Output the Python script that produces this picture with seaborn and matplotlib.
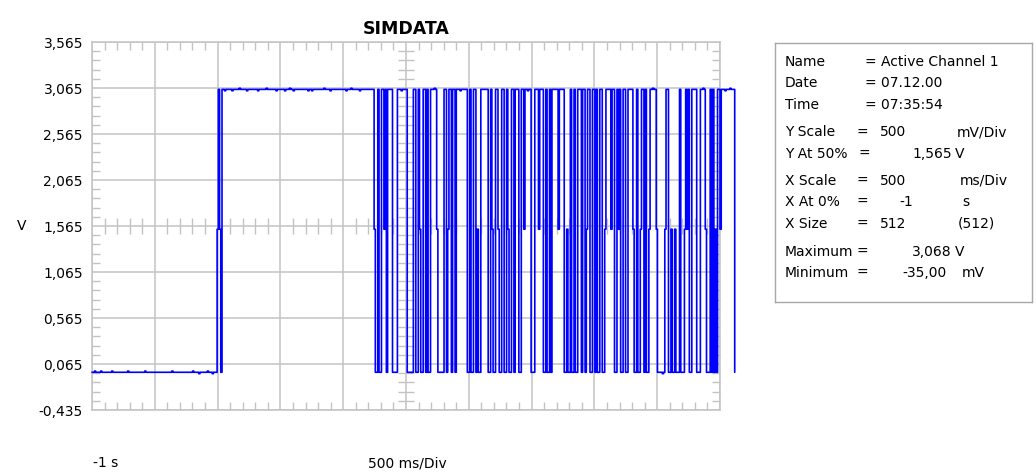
import numpy as np
import matplotlib
matplotlib.use("Agg")
import matplotlib.pyplot as plt
from matplotlib.ticker import FixedLocator
import seaborn as sns
import pandas as pd

# ---------------- data ----------------
TITLE = "SIMDATA"
X_START = -1.0            # s, left edge
X_END = 4.0               # s, right edge
DT = 5.0 / 512            # s per sample
Y_MIN, Y_MAX = -0.435, 3.565
X_TICKS = [-1.0, -0.5, 0.0, 0.5, 1.0, 1.5, 2.0, 2.5, 3.0, 3.5, 4.0]
Y_TICKS = [-0.435, 0.065, 0.565, 1.065, 1.565, 2.065, 2.565, 3.065, 3.565]
Y_TICK_LABELS = ["-0,435", "0,065", "0,565", "1,065", "1,565",
                 "2,065", "2,565", "3,065", "3,565"]
Y_CENTER = 1.565
X_CENTER = 1.5

# signal levels (V) used by the per-sample level strings below
LEVELS = {"L": -0.025, "l": -0.040, "k": -0.012,
          "M": 1.530,
          "H": 3.050, "h": 3.035, "j": 3.062}

SEG_LOW = ("LLkLLLLkLL" "LLLLLLkLLL" "LLLLLLLLLk" "LLLLLLLLLL" "LLLkLLLLLL"
           "LLLLLLLLLL" "LLLLLkLLLL" "LLLLLLLLLL" "LLkLLLLlLL" "LLLLkLLLlL" "LL")
SEG_STEP = "MHML"
SEG_HIGH = ("HHhHHHHHhH" "HHHHjHHHHH" "hHHHHHHHHh" "HHHHHHjHHH" "HHHHhHHHHH"
            "HhHHHjHHhH" "HHHHHHHHHH" "hHHhHHHHHH" "HHHjHHHHhH" "HHHHHHHHHH"
            "HhHHHjHHHH" "HHhHHHH")
SEG_A = ("HHHHHHH" "MLLHLL" "HHMHLHH" "HHLLLL" "HHHhHHHH" "LLLLL"
         "HHLLHMLLHHLHLLH" "HHjH" "MLLL")
SEG_B = ("LLHHLMHH" "LHHL" "HHHhHHHHH" "LLHLLHHL" "MLLHH" "HHHH"
         "LLHMLLHHMLLHHLLHMLLHHLHH")
SEG_C = ("HLLHHM" "HHhHH" "LLL" "HHHMHHH" "LLHLLHL" "HHHHHMHHHH"
         "LLMLLHLL" "HLLHHHL" "HHLMHHLLH")
SEG_D = ("HLHLL" "HHL" "LMHH" "HHMHH" "LLHMHL" "LHHLLH" "HHHML"
         "LHLLMHHLHLLM" "HHjHH" "ML" "LLLlL" "MHHL")
SEG_E = ("LMLLMLLL" "H" "LLLM" "HM" "H" "LLHH" "HH" "LLL" "H" "HjH" "M"
         "LLLHL" "HLMLHHM" "HHHhHHHjHHH" "L")

BOTTOM_LEFT = "-1 s"
BOTTOM_CENTER = "500 ms/Div"
Y_UNIT = "V"

INFO_LABELS = ["Name", "Date", "Time", "Y Scale", "Y At 50%", "X Scale",
               "X At 0%", "X Size", "Maximum", "Minimum"]
INFO_EQ = ["= Active Channel 1", "= 07.12.00", "= 07:35:54", "=", "=", "=",
           "=", "=", "=", "="]
INFO_VALUES = ["", "", "", "500", "1,565", "500", "-1", "512", "3,068", "-35,00"]
INFO_UNITS = ["", "", "", "mV/Div", "V", "ms/Div", "s", "(512)", "V", "mV"]

# ---------------- build series ----------------
samples = SEG_LOW + SEG_STEP + SEG_HIGH + SEG_A + SEG_B + SEG_C + SEG_D + SEG_E
volts = [LEVELS[c] for c in samples]
times = X_START + np.arange(len(volts)) * DT
df = pd.DataFrame({"t": times, "v": volts})

# ---------------- figure ----------------
sns.set_style("white")
plt.rcParams["font.family"] = ["DejaVu Sans"]
plt.rcParams["text.color"] = "black"
plt.rcParams["axes.titlecolor"] = "black"
W, H = 1036, 473
fig = plt.figure(figsize=(W / 100, H / 100), dpi=100)
fig.patch.set_facecolor("white")

L, R, T, B = 92, 720, 42, 410
ax = fig.add_axes([L / W, 1 - B / H, (R - L) / W, (B - T) / H])
GRID = "#c3c3c3"

sns.lineplot(data=df, x="t", y="v", ax=ax, color="#0000ff", linewidth=1.2,
             estimator=None, sort=False, zorder=5, drawstyle="steps-post")
for ln in ax.lines:
    ln.set_clip_on(False)

ax.set_xlim(X_START, X_END)
ax.set_ylim(Y_MIN, Y_MAX)
ax.set_xticks(X_TICKS)
ax.set_yticks(Y_TICKS)
ax.set_yticklabels(Y_TICK_LABELS)
ax.set_xlabel("")
ax.set_ylabel("")

x_minor = [round(X_START + 0.1 * i, 3) for i in range(51)]
y_minor = [round(Y_MIN + 0.1 * i, 3) for i in range(41)]
x_minor_only = [x for x in x_minor if min(abs(x - m) for m in X_TICKS) > 1e-6]
y_minor_only = [y for y in y_minor if min(abs(y - m) for m in Y_TICKS) > 1e-6]
ax.xaxis.set_minor_locator(FixedLocator(x_minor_only))
ax.yaxis.set_minor_locator(FixedLocator(y_minor_only))

ax.grid(True, which="major", color=GRID, linewidth=1.1)
ax.set_axisbelow(True)
ax.tick_params(axis="both", which="major", length=0)
ax.tick_params(axis="x", which="major", labelbottom=False)
ax.tick_params(axis="y", which="major", labelsize=10, pad=6.5, labelcolor="black")
ax.tick_params(axis="both", which="minor", direction="in", length=5.8, width=1.0,
               color=GRID, top=True, bottom=True, left=True, right=True)
for s in ax.spines.values():
    s.set_color(GRID)
    s.set_linewidth(1.1)

# cross ticks on center lines
px_per_v = (B - T) / (Y_MAX - Y_MIN)
px_per_s = (R - L) / (X_END - X_START)
ax.vlines(x_minor_only, Y_CENTER - 8 / px_per_v, Y_CENTER + 8 / px_per_v,
          color=GRID, linewidth=1.0, zorder=1)
ax.hlines(y_minor_only, X_CENTER - 8 / px_per_s, X_CENTER + 8 / px_per_s,
          color=GRID, linewidth=1.0, zorder=1)

ax.set_title(TITLE, fontsize=12.5, fontweight="bold", pad=6, color="black")

def fx(px):
    return px / W

def fy(py):
    return 1 - py / H

fig.text(fx(17), fy(226), Y_UNIT, fontsize=10, ha="left", va="center")
fig.text(fx(93), fy(463), BOTTOM_LEFT, fontsize=10, ha="left", va="center")
fig.text(fx(407), fy(463), BOTTOM_CENTER, fontsize=10, ha="center", va="center")

# info box
BX0, BX1, BY0, BY1 = 775, 1032, 43, 302
bax = fig.add_axes([BX0 / W, 1 - BY1 / H, (BX1 - BX0) / W, (BY1 - BY0) / H])
bax.set_xlim(BX0, BX1)
bax.set_ylim(BY1, BY0)
bax.set_xticks([])
bax.set_yticks([])
bax.set_facecolor("white")
for s in bax.spines.values():
    s.set_color("#a8a8a8")
    s.set_linewidth(1.0)

row_y = [62, 83.5, 105, 132.5, 154, 181, 202, 223.5, 251.5, 273]
eq_x = [865, 865, 865, 857, 859, 857, 857, 857, 857, 857]
val_pos = [None, None, None, ("left", 880), ("right", 952), ("left", 880),
           ("right", 913), ("left", 880), ("right", 952), ("right", 947)]
unit_x = [None, None, None, 957, 955, 960, 962, 958, 955, 962]
FS = 10
for i, lab in enumerate(INFO_LABELS):
    y = row_y[i]
    bax.text(785, y, lab, fontsize=FS, ha="left", va="center")
    bax.text(eq_x[i], y, INFO_EQ[i], fontsize=FS, ha="left", va="center")
    if val_pos[i] is not None:
        bax.text(val_pos[i][1], y, INFO_VALUES[i], fontsize=FS,
                 ha=val_pos[i][0], va="center")
    if unit_x[i] is not None:
        bax.text(unit_x[i], y, INFO_UNITS[i], fontsize=FS, ha="left", va="center")

fig.savefig("out.png", dpi=100, facecolor="white")
